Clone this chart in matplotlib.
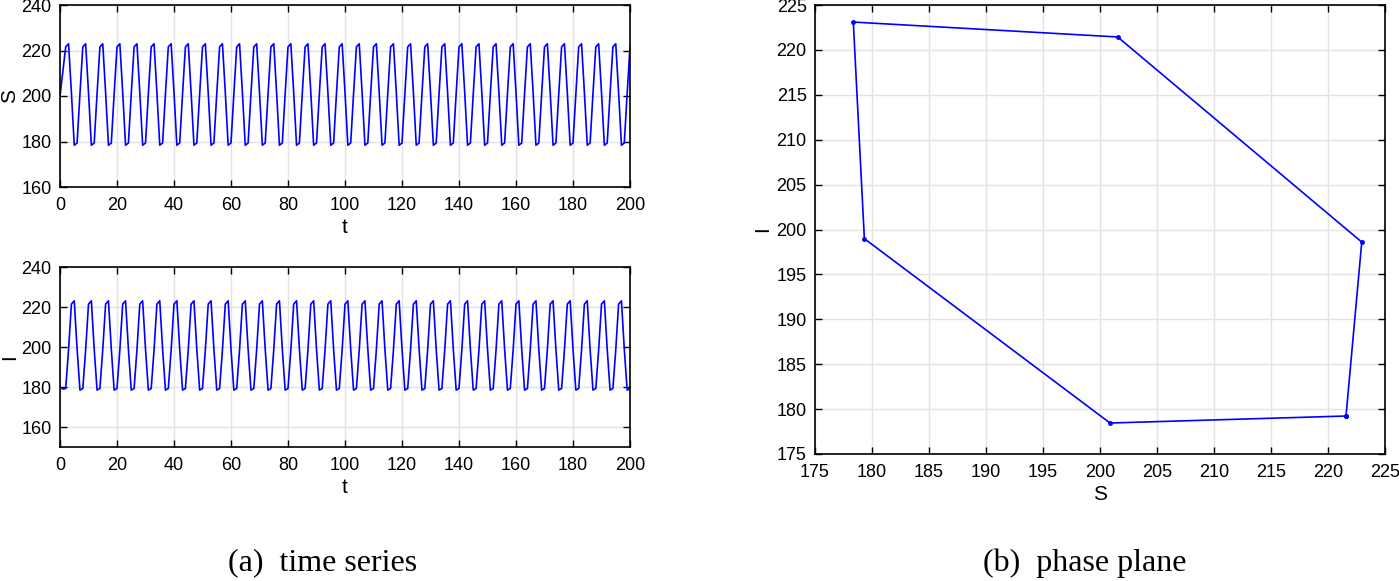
import numpy as np
import matplotlib.pyplot as plt

plt.rcParams['font.family'] = ['Liberation Sans', 'DejaVu Sans']

# one period of the cycle (read from the phase plane), in time order
S_cycle = [221.58, 222.96, 201.55, 178.36, 179.33, 200.88]
I_cycle = [179.23, 198.6, 221.44, 223.1, 198.98, 178.45]

# first two time steps before the cycle settles
S_start = [200.0, 210.8]
I_start = [180.0, 179.0]

t = np.arange(0, 201)
n_cycle = len(t) - len(S_start)
S = np.concatenate([S_start, np.tile(S_cycle, 40)[:n_cycle]])
I = np.concatenate([I_start, np.tile(I_cycle, 40)[:n_cycle]])

W, H = 1399, 581
fig = plt.figure(figsize=(W / 100, H / 100), dpi=100)


def style(ax):
    ax.grid(True, color='#e3e3e3', linewidth=1)
    ax.set_axisbelow(True)
    ax.tick_params(direction='in', top=True, right=True, labelsize=13,
                   length=5, width=1)
    ax.tick_params(axis='x', pad=7)
    ax.tick_params(axis='y', pad=6)
    for sp in ax.spines.values():
        sp.set_linewidth(1.2)


# time series: S
ax1 = fig.add_axes([60 / W, 1 - 187 / H, 570 / W, 182 / H])
ax1.plot(t, S, color='#0000ff', lw=1.2)
ax1.set_xlim(0, 200)
ax1.set_ylim(160, 240)
ax1.set_xticks(range(0, 201, 20))
ax1.set_yticks(range(160, 241, 20))
ax1.set_xlabel('t', fontsize=15, labelpad=3)
ax1.set_ylabel('S', fontsize=15, va='center')
ax1.yaxis.set_label_coords((10 - 60) / 570, 0.5)
style(ax1)

# time series: I
ax2 = fig.add_axes([60 / W, 1 - 447 / H, 570 / W, 180 / H])
ax2.plot(t, I, color='#0000ff', lw=1.2)
ax2.set_xlim(0, 200)
ax2.set_ylim(150, 240)
ax2.set_xticks(range(0, 201, 20))
ax2.set_yticks(range(160, 241, 20))
ax2.set_xlabel('t', fontsize=15, labelpad=3)
ax2.set_ylabel('I', fontsize=15, va='center')
ax2.yaxis.set_label_coords((10 - 60) / 570, 0.5)
style(ax2)

# phase plane
ax3 = fig.add_axes([815 / W, 1 - 454 / H, 570 / W, 449 / H])
ax3.plot(S_cycle + S_cycle[:1], I_cycle + I_cycle[:1], color='#0000ff',
         lw=1.2, marker='.', markersize=5)
ax3.set_xlim(175, 225)
ax3.set_ylim(175, 225)
ax3.set_xticks(range(175, 226, 5))
ax3.set_yticks(range(175, 226, 5))
ax3.set_xlabel('S', fontsize=15, labelpad=3)
ax3.set_ylabel('I', fontsize=15, va='center')
ax3.yaxis.set_label_coords((763 - 815) / 570, 0.5)
style(ax3)

# captions
fig.text(323 / W, 1 - 563 / H, '(a)  time series', ha='center', va='center',
         fontsize=23, family=['Liberation Serif', 'DejaVu Serif'])
fig.text(1085 / W, 1 - 563 / H, '(b)  phase plane', ha='center', va='center',
         fontsize=23, family=['Liberation Serif', 'DejaVu Serif'])

plt.savefig('out.png', dpi=100)
